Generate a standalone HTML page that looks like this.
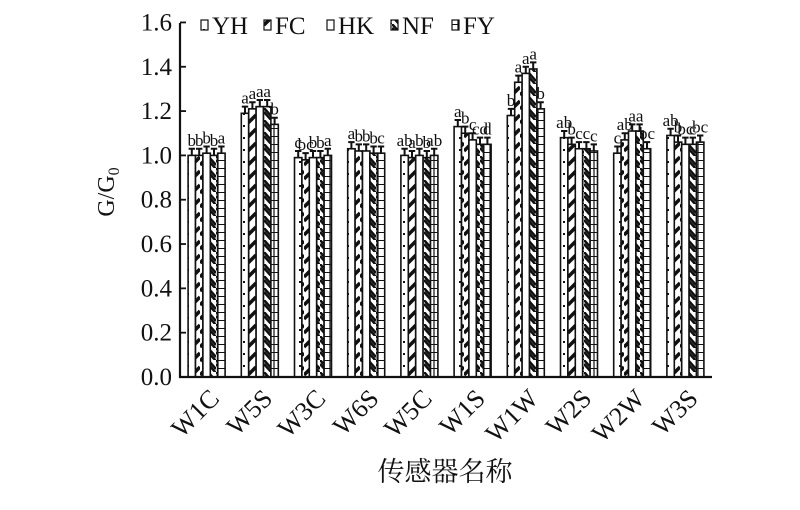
<!DOCTYPE html>
<html><head><meta charset="utf-8"><style>
body{margin:0;background:#fff;}
svg text{font-family:"Liberation Serif","Noto Serif CJK SC",serif;fill:#111;}
</style></head><body>
<svg id="s" width="800" height="505" xmlns="http://www.w3.org/2000/svg">
<defs>
<pattern id="pYH" width="8" height="12" patternUnits="userSpaceOnUse"><rect width="8" height="12" fill="#fff"/><rect x="3" y="5" width="2" height="2" fill="#111"/></pattern>
<pattern id="pFC" width="8" height="14" patternUnits="userSpaceOnUse"><rect width="8" height="14" fill="#fff"/><path d="M0 11 L8 3" stroke="#111" stroke-width="3.5"/></pattern>
<pattern id="pHK" width="8" height="8" patternUnits="userSpaceOnUse"><rect width="8" height="8" fill="#fff"/></pattern>
<pattern id="pNF" width="8" height="12" patternUnits="userSpaceOnUse"><rect width="8" height="12" fill="#fff"/><path d="M0 0 L8 9 M0 4 L8 13" stroke="#111" stroke-width="2.5"/></pattern>
<pattern id="pFY" width="8" height="8" patternUnits="userSpaceOnUse"><rect width="8" height="8" fill="#fff"/><path d="M0 0 H8" stroke="#111" stroke-width="2"/><path d="M2 0 V8" stroke="#111" stroke-width="1.2"/></pattern>
</defs>
<g id="g"></g>
</svg>
<script>
var g=document.getElementById('g'),NS='http://www.w3.org/2000/svg';
function el(t,a,txt){var e=document.createElementNS(NS,t);for(var k in a)e.setAttribute(k,a[k]);if(txt!=null)e.textContent=txt;g.appendChild(e);return e;}
var X0=180,X1=712,Y0=377,S=221.6;
function y(v){return Y0-v*S;}
var names=['W1C','W5S','W3C','W6S','W5C','W1S','W1W','W2S','W2W','W3S'];
var vals=[[1.00,1.00,1.01,1.00,1.01],[1.19,1.21,1.22,1.22,1.14],[0.99,0.98,0.99,0.99,1.00],[1.03,1.02,1.02,1.01,1.01],[1.00,0.99,1.00,0.99,1.00],[1.13,1.10,1.07,1.05,1.05],[1.18,1.33,1.37,1.39,1.21],[1.08,1.05,1.03,1.03,1.02],[1.01,1.07,1.11,1.11,1.03],[1.09,1.06,1.05,1.05,1.06]];
var lets=[['b','b','b','b','a'],['a','a','a','a','b'],['c','bc','b','b','a'],['a','b','b','b','c'],['ab','a','b','b','ab'],['a','b','c','cd','d'],['b','a','a','a','b'],['ab','b','c','c','c'],['c','ab','a','a','bc'],['ab','b','bc','c','bc']];
var pats=['pYH','pFC','pHK','pNF','pFY'];
var bw=7.4,gw=53.2;
for(var i=0;i<10;i++){var cx=X0+gw/2+gw*i;
 for(var j=0;j<5;j++){var x=cx-2.5*bw+j*bw,v=vals[i][j];
  el('rect',{x:x,y:y(v),width:bw,height:Y0-y(v),fill:'url(#'+pats[j]+')',stroke:'#111','stroke-width':1.6});
  var e=y(v+0.03);el('path',{d:'M'+(x+bw/2)+' '+y(v)+' V'+e+' M'+(x+0.5)+' '+e+' H'+(x+bw-0.5),stroke:'#111','stroke-width':2,fill:'none'});
  el('text',{x:x+bw/2,y:e-3,'font-size':17,'text-anchor':'middle'},lets[i][j]);
 }
 var ax=cx+14,ay=400;
 el('text',{x:ax,y:ay,'font-size':26,'text-anchor':'end',transform:'rotate(-45 '+ax+' '+ay+')'},names[i]);
}
el('path',{d:'M'+X0+' 23 V'+Y0+' H'+X1,stroke:'#111','stroke-width':2.2,fill:'none'});
for(var k=0;k<=8;k++){var v=k*0.2,yy=y(v);el('path',{d:'M'+X0+' '+yy+' H'+(X0+6),stroke:'#111','stroke-width':1.8});
 el('text',{x:172,y:yy+8,'font-size':25,'text-anchor':'end'},v.toFixed(1));}
var yl=el('text',{x:114,y:192,'font-size':24,'text-anchor':'middle',transform:'rotate(-90 114 192)'},'G/G');
var ts=document.createElementNS(NS,'tspan');ts.setAttribute('font-size',16);ts.setAttribute('dy',5);ts.textContent='0';yl.appendChild(ts);
el('text',{x:445,y:481,'font-size':27,'text-anchor':'middle'},'传感器名称');
var lx=[201,264,327,391,452],ln=['YH','FC','HK','NF','FY'];
for(var j=0;j<5;j++){el('rect',{x:lx[j],y:20,width:7,height:10,fill:'url(#'+pats[j]+')',stroke:'#111','stroke-width':1.2});
 el('text',{x:lx[j]+11,y:34,'font-size':25},ln[j]);}
</script>
</body></html>
